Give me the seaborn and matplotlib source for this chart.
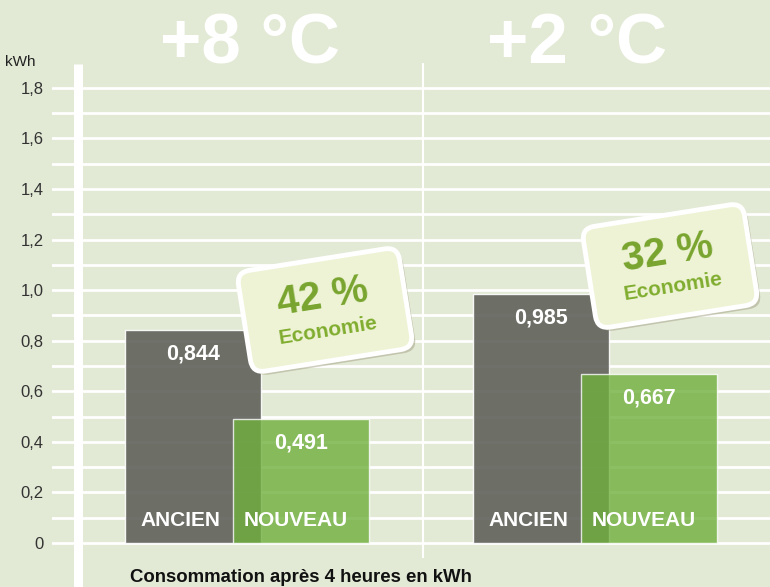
import numpy as np
import pandas as pd
import matplotlib
matplotlib.use("Agg")
import matplotlib.pyplot as plt
import seaborn as sns
from matplotlib.patches import FancyBboxPatch
from matplotlib.transforms import Affine2D

# data
groups = ["+8 °C", "+2 °C"]
ancien = [0.844, 0.985]
nouveau = [0.491, 0.667]
savings = ["42 %", "32 %"]
series_names = ["ANCIEN", "NOUVEAU"]
yticks = [0, 0.2, 0.4, 0.6, 0.8, 1.0, 1.2, 1.4, 1.6, 1.8]
ylabel_top = "kWh"
footnote = "Consommation après 4 heures en kWh"
badge_word = "Economie"

# layout (reference pixels, 770x587 canvas)
W, H = 770, 587
y0_px, ppu = 543, 252.8          # pixel of value 0, pixels per kWh
group_px = [247, 595]
title_px = [250, 577]
half_gap = 54
bar_w = 0.388
badges = [(325, 310), (670, 266)]


def ypx(p):
    return (y0_px - p) / ppu


def fmt(v, nd):
    return ("%.*f" % (nd, v)).replace(".", ",")


sns.set_theme(style="white")
plt.rcParams["font.family"] = ["Liberation Sans", "DejaVu Sans"]

bg = "#e2ead5"
fig = plt.figure(figsize=(7.7, 5.87), dpi=100)
fig.patch.set_facecolor(bg)
ax = fig.add_axes([52 / W, (H - 548.06) / H, 718 / W, (548.06 - 82.86) / H])
ax.set_facecolor(bg)

pos_old = [g - half_gap for g in group_px]
pos_new = [g + half_gap for g in group_px]

sns.barplot(x=pos_old, y=ancien, native_scale=True, width=bar_w, saturation=1,
            color="#60615a", alpha=0.9, edgecolor="white", linewidth=1.0,
            errorbar=None, zorder=3, ax=ax)
sns.barplot(x=pos_new, y=nouveau, native_scale=True, width=bar_w, saturation=1,
            color="#70af3d", alpha=0.8, edgecolor="white", linewidth=1.0,
            errorbar=None, zorder=4, ax=ax)

ax.set_xlim(52, 770)
ax.set_ylim(-0.02, 1.82)
ax.set_xticks([])
ax.set_yticks(yticks)
ax.set_yticklabels(["0" if t == 0 else fmt(t, 1) for t in yticks],
                   color="#333333", fontsize=12)
ax.set_yticks(np.arange(0.1, 1.8, 0.2), minor=True)
ax.tick_params(axis="y", which="both", length=0, pad=6)
ax.grid(axis="y", which="both", color="white", linewidth=2)
ax.set_axisbelow(True)
ax.set_xlabel("")
ax.set_ylabel("")
for s in ax.spines.values():
    s.set_visible(False)

# vertical separators
ax.vlines(78, ypx(H), ypx(64), color="white", linewidth=6.5, clip_on=False, zorder=2)
ax.vlines(422.5, ypx(558), ypx(63), color="white", linewidth=1.5, clip_on=False, zorder=2)

# value and series labels
lab = dict(color="white", fontweight="bold", ha="center", va="center", zorder=5)
for i in range(len(groups)):
    ax.text(pos_old[i], ancien[i] - 0.095, fmt(ancien[i], 3), fontsize=15.5, **lab)
    ax.text(pos_new[i], nouveau[i] - 0.095, fmt(nouveau[i], 3), fontsize=15.5, **lab)
    ax.text(pos_old[i] - 13, 0.09, series_names[0], fontsize=15, **lab)
    ax.text(pos_new[i] - 5, 0.09, series_names[1], fontsize=15, **lab)
    ax.text(title_px[i], ypx(46), groups[i], fontsize=51, color="white",
            fontweight="bold", ha="center", va="center", clip_on=False)

fig.text(5 / W, 1 - 62 / H, ylabel_top, fontsize=11, color="#222222",
         ha="left", va="center")
fig.text(130 / W, 1 - 578 / H, footnote, fontsize=13.4, fontweight="bold",
         color="#111111", ha="left", va="center")

# rotated "Economie" badges, drawn in reference-pixel space
base = Affine2D().scale(1 / 100) + fig.dpi_scale_trans
angle = 9
bw, bh = 163, 102
for (cx, cy), txt in zip(badges, savings):
    cyu = H - cy
    rot = Affine2D().rotate_deg_around(cx, cyu, angle) + base
    shadow = FancyBboxPatch((cx - bw / 2 + 3, cyu - bh / 2 - 4), bw, bh,
                            boxstyle="round,pad=0,rounding_size=13",
                            fc="#a9a68c", ec="none", alpha=0.55,
                            transform=rot, zorder=6, clip_on=False)
    card = FancyBboxPatch((cx - bw / 2, cyu - bh / 2), bw, bh,
                          boxstyle="round,pad=0,rounding_size=13",
                          fc="#eef3d5", ec="white", linewidth=3.5,
                          transform=rot, zorder=7, clip_on=False)
    ax.add_patch(shadow)
    ax.add_patch(card)
    ax.text(cx, cyu + 13, txt, transform=rot, rotation=angle, rotation_mode="anchor",
            fontsize=29, fontweight="bold", color="#78a42e", ha="center",
            va="center", zorder=8, clip_on=False)
    ax.text(cx, cyu - 21, badge_word, transform=rot, rotation=angle,
            rotation_mode="anchor", fontsize=15, fontweight="bold",
            color="#80ad2f", ha="center", va="center", zorder=8, clip_on=False)

fig.savefig("out.png", dpi=100, facecolor=bg)
